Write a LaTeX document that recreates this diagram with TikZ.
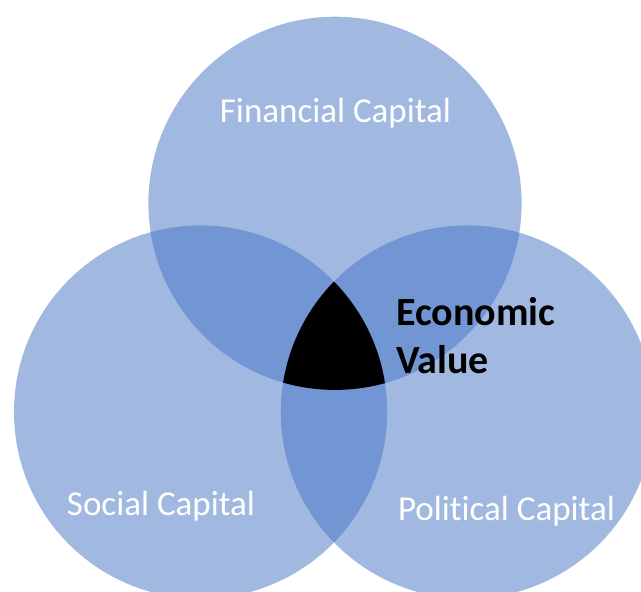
\documentclass[tikz,border=0pt]{standalone}
\usepackage{fontspec}
\setmainfont{Carlito}[Ligatures=NoCommon]
\usepackage{tikz}
\usetikzlibrary{shapes, positioning}
\definecolor{capblue}{HTML}{4472C4}
\tikzstyle{capital} = [circle, minimum size=373.2pt, inner sep=0pt, draw=none, fill=capblue, fill opacity=0.5]
\tikzstyle{captext} = [anchor=base, inner sep=0pt, text=white, font=\fontsize{35}{42}\selectfont]
\tikzstyle{valtext} = [anchor=base west, inner sep=0pt, text=black, font=\bfseries\fontsize{40}{48}\selectfont]

\begin{document}
\begin{tikzpicture}[x=1pt, y=-1pt]
        \useasboundingbox (0,0) rectangle (641,592);
        \clip (0,0) rectangle (641,592);

        % Circles
        \node (fin) [capital] at (335,203.3) {};
        \node (soc) [capital] at (200.6,412) {};
        \node (pol) [capital] at (467.4,412) {};

        % Common part
        \begin{scope}
            \clip (fin.center) circle (186.6pt);
            \clip (soc.center) circle (186.6pt);
            \fill [black] (pol.center) circle (186.6pt);
        \end{scope}

        % Labels
        \node (fintext) [captext] at (335.5,122) {Financial Capital};
        \node (soctext) [captext] at (161,515) {Social Capital};
        \node (poltext) [captext] at (506.5,520) {Political Capital};
        \node (econ) [valtext] at (396,325) {Economic};
        \node (value) [valtext] at (396,373) {Value};

    \end{tikzpicture}
\end{document}
